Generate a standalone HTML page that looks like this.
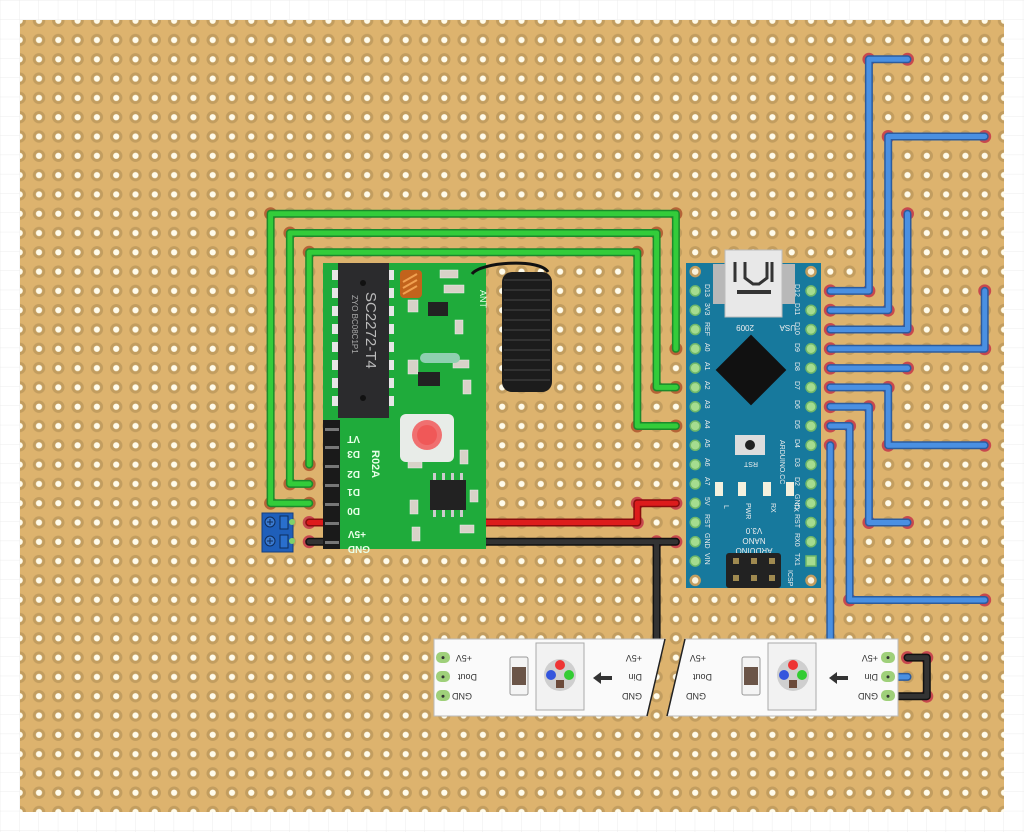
<!DOCTYPE html>
<html><head><meta charset="utf-8"><style>
html,body{margin:0;padding:0;background:#fff;}
svg{display:block;}
text{font-family:"Liberation Sans",sans-serif;}
</style></head><body>
<svg width="1024" height="832" viewBox="0 0 1024 832" xmlns="http://www.w3.org/2000/svg">
<defs>
<pattern id="bg" width="19.3" height="19.3" patternUnits="userSpaceOnUse" x="0.4" y="0.7">
<path d="M19.3 0V19.3H0" fill="none" stroke="#ececec" stroke-width="1"/>
</pattern>
<pattern id="holes" width="19.3" height="19.3" patternUnits="userSpaceOnUse" x="29.35" y="30.35">
<circle cx="9.65" cy="9.65" r="6.2" fill="#c29d5f"/>
<circle cx="9.65" cy="9.65" r="3.1" fill="#fffbea"/>
</pattern>
</defs>
<rect width="1024" height="832" fill="url(#bg)"/>
<rect x="20" y="20" width="984" height="792" fill="#ddb36e"/>
<rect x="20" y="20" width="984" height="792" fill="url(#holes)"/>

<!-- endpoint halos -->
<g fill="#c8344a" opacity="0.8">
<circle cx="907.5" cy="59.3" r="6.5"/><circle cx="868.9" cy="59.3" r="6.5"/><circle cx="868.9" cy="290.9" r="6.5"/><circle cx="830.3" cy="290.9" r="6.5"/>
<circle cx="984.7" cy="136.5" r="6.5"/><circle cx="888.2" cy="136.5" r="6.5"/><circle cx="888.2" cy="310.2" r="6.5"/><circle cx="830.3" cy="310.2" r="6.5"/>
<circle cx="907.5" cy="213.7" r="6.5"/><circle cx="907.5" cy="329.5" r="6.5"/><circle cx="830.3" cy="329.5" r="6.5"/>
<circle cx="984.7" cy="290.9" r="6.5"/><circle cx="984.7" cy="348.8" r="6.5"/><circle cx="830.3" cy="348.8" r="6.5"/>
<circle cx="907.5" cy="368.1" r="6.5"/><circle cx="830.3" cy="368.1" r="6.5"/>
<circle cx="830.3" cy="387.4" r="6.5"/><circle cx="888.2" cy="387.4" r="6.5"/><circle cx="888.2" cy="445.3" r="6.5"/><circle cx="984.7" cy="445.3" r="6.5"/>
<circle cx="830.3" cy="406.7" r="6.5"/><circle cx="868.9" cy="406.7" r="6.5"/><circle cx="868.9" cy="522.5" r="6.5"/><circle cx="907.5" cy="522.5" r="6.5"/>
<circle cx="830.3" cy="426" r="6.5"/><circle cx="849.6" cy="426" r="6.5"/><circle cx="849.6" cy="600" r="6.5"/><circle cx="984.7" cy="600" r="6.5"/>
<circle cx="830.3" cy="445.3" r="6.5"/>
<circle cx="309.2" cy="522.5" r="6.5"/><circle cx="637.3" cy="522.5" r="6.5"/><circle cx="637.3" cy="503.2" r="6.5"/><circle cx="675.9" cy="503.2" r="6.5"/>
<circle cx="309.2" cy="541.8" r="6.5"/><circle cx="675.9" cy="541.8" r="6.5"/><circle cx="656.6" cy="541.8" r="6.5"/>
<circle cx="907.5" cy="657.6" r="6.5"/><circle cx="926.8" cy="657.6" r="6.5"/><circle cx="926.8" cy="696.2" r="6.5"/>
</g>
<g fill="#b0502a" opacity="0.75">
<circle cx="309.2" cy="503.2" r="6.5"/><circle cx="270.6" cy="503.2" r="6.5"/><circle cx="270.6" cy="213.7" r="6.5"/><circle cx="675.9" cy="213.7" r="6.5"/><circle cx="675.9" cy="348.8" r="6.5"/>
<circle cx="309.2" cy="483.9" r="6.5"/><circle cx="289.9" cy="483.9" r="6.5"/><circle cx="289.9" cy="233" r="6.5"/><circle cx="656.6" cy="233" r="6.5"/><circle cx="656.6" cy="387.4" r="6.5"/><circle cx="675.9" cy="387.4" r="6.5"/>
<circle cx="309.2" cy="464.6" r="6.5"/><circle cx="309.2" cy="252.3" r="6.5"/><circle cx="637.3" cy="252.3" r="6.5"/><circle cx="637.3" cy="426" r="6.5"/><circle cx="675.9" cy="426" r="6.5"/>
</g>

<!-- Blue wires -->
<g fill="none" stroke-linecap="round" stroke-linejoin="round">
<g stroke="#2c5c9e" stroke-width="8">
<path d="M907.5 59.3H868.9V290.9H830.3"/>
<path d="M984.7 136.5H888.2V310.2H830.3"/>
<path d="M907.5 213.7V329.5H830.3"/>
<path d="M984.7 290.9V348.8H830.3"/>
<path d="M907.5 368.1H830.3"/>
<path d="M830.3 387.4H888.2V445.3H984.7"/>
<path d="M830.3 406.7H868.9V522.5H907.5"/>
<path d="M830.3 426H849.6V600H984.7"/>
<path d="M830.3 445.3V640"/>
<path d="M888 676.9H907.5"/>
</g>
<g stroke="#4a90e2" stroke-width="5">
<path d="M907.5 59.3H868.9V290.9H830.3"/>
<path d="M984.7 136.5H888.2V310.2H830.3"/>
<path d="M907.5 213.7V329.5H830.3"/>
<path d="M984.7 290.9V348.8H830.3"/>
<path d="M907.5 368.1H830.3"/>
<path d="M830.3 387.4H888.2V445.3H984.7"/>
<path d="M830.3 406.7H868.9V522.5H907.5"/>
<path d="M830.3 426H849.6V600H984.7"/>
<path d="M830.3 445.3V640"/>
<path d="M888 676.9H907.5"/>
</g>
</g>

<!-- Green wires -->
<g fill="none" stroke-linecap="round" stroke-linejoin="round">
<g stroke="#1b8a2b" stroke-width="8">
<path d="M309.2 503.2H270.6V213.7H675.9V348.8"/>
<path d="M309.2 483.9H289.9V233H656.6V387.4H675.9"/>
<path d="M309.2 464.6V252.3H637.3V426H675.9"/>
</g>
<g stroke="#33cc3a" stroke-width="5">
<path d="M309.2 503.2H270.6V213.7H675.9V348.8"/>
<path d="M309.2 483.9H289.9V233H656.6V387.4H675.9"/>
<path d="M309.2 464.6V252.3H637.3V426H675.9"/>
</g>
</g>

<!-- Red / black wires -->
<g fill="none" stroke-linecap="round" stroke-linejoin="round">
<path d="M309.2 522.5H637.3V503.2H675.9" stroke="#8a0d0d" stroke-width="8"/>
<path d="M309.2 522.5H637.3V503.2H675.9" stroke="#dd1c1c" stroke-width="5"/>
<path d="M309.2 541.8H675.9M656.6 541.8V650" stroke="#111" stroke-width="8"/>
<path d="M309.2 541.8H675.9M656.6 541.8V650" stroke="#333" stroke-width="5"/>
<path d="M907.5 657.6H926.8V696.2H898" stroke="#111" stroke-width="8"/>
<path d="M907.5 657.6H926.8V696.2H898" stroke="#333" stroke-width="5"/>
</g>

<!-- Terminal block -->
<rect x="262" y="513" width="31" height="39" fill="#1f5fba" stroke="#143f80"/>
<circle cx="270" cy="522" r="5" fill="#3a7ad0" stroke="#0e2c5a"/><path d="M267 522h6M270 519v6" stroke="#0e2c5a"/>
<circle cx="270" cy="541" r="5" fill="#3a7ad0" stroke="#0e2c5a"/><path d="M267 541h6M270 538v6" stroke="#0e2c5a"/>
<rect x="280" y="516" width="8" height="13" fill="#2a6fcc" stroke="#0e2c5a"/>
<rect x="280" y="535" width="8" height="13" fill="#2a6fcc" stroke="#0e2c5a"/>
<circle cx="292" cy="522" r="3" fill="#7fd06a"/><circle cx="292" cy="541" r="3" fill="#7fd06a"/>

<!-- RF module -->
<rect x="323" y="263" width="163" height="286" fill="#1fab3b"/>
<rect x="323" y="420" width="17" height="129" fill="#1a1a1a"/>
<g fill="#777">
<rect x="325" y="428" width="14" height="3"/><rect x="325" y="446" width="14" height="3"/><rect x="325" y="465" width="14" height="3"/><rect x="325" y="484" width="14" height="3"/><rect x="325" y="503" width="14" height="3"/><rect x="325" y="522" width="14" height="3"/><rect x="325" y="541" width="14" height="3"/>
</g>
<g fill="#e6e6e6">
<rect x="332" y="270" width="6" height="10"/><rect x="332" y="288" width="6" height="10"/><rect x="332" y="306" width="6" height="10"/><rect x="332" y="324" width="6" height="10"/><rect x="332" y="342" width="6" height="10"/><rect x="332" y="360" width="6" height="10"/><rect x="332" y="378" width="6" height="10"/><rect x="332" y="396" width="6" height="10"/>
<rect x="388" y="270" width="6" height="10"/><rect x="388" y="288" width="6" height="10"/><rect x="388" y="306" width="6" height="10"/><rect x="388" y="324" width="6" height="10"/><rect x="388" y="342" width="6" height="10"/><rect x="388" y="360" width="6" height="10"/><rect x="388" y="378" width="6" height="10"/><rect x="388" y="396" width="6" height="10"/>
</g>
<rect x="338" y="263" width="51" height="155" fill="#2b2b2d"/>
<circle cx="363" cy="283" r="3" fill="#111"/><circle cx="363" cy="398" r="3" fill="#111"/>
<text transform="translate(366,292) rotate(90)" font-size="15" fill="#bbb">SC2272-T4</text>
<text transform="translate(352,295) rotate(90)" font-size="8" fill="#aaa">ZYO  BC08C1P1</text>
<g font-size="10" fill="#e8ffe8" font-weight="bold">
<text transform="translate(360,436) rotate(180)">VT</text>
<text transform="translate(360,451) rotate(180)">D3</text>
<text transform="translate(360,471) rotate(180)">D2</text>
<text transform="translate(360,489) rotate(180)">D1</text>
<text transform="translate(360,508) rotate(180)">D0</text>
<text transform="translate(366,531) rotate(180)">+5V</text>
<text transform="translate(370,546) rotate(180)">GND</text>
</g>
<text transform="translate(372,450) rotate(90)" font-size="11" fill="#e8ffe8" font-weight="bold">R02A</text>
<text transform="translate(480,290) rotate(90)" font-size="9" fill="#e8ffe8">ANT</text>
<g fill="#d8d2c8" stroke="#eee" stroke-width="0.5">
<rect x="440" y="270" width="18" height="8"/><rect x="444" y="285" width="20" height="8"/><rect x="455" y="320" width="8" height="14"/><rect x="408" y="300" width="10" height="12"/><rect x="408" y="360" width="10" height="14"/><rect x="453" y="360" width="16" height="8"/><rect x="463" y="380" width="8" height="14"/><rect x="408" y="460" width="14" height="8"/><rect x="460" y="450" width="8" height="14"/><rect x="470" y="490" width="8" height="12"/><rect x="410" y="500" width="8" height="14"/><rect x="460" y="525" width="14" height="8"/><rect x="412" y="527" width="8" height="14"/>
</g>
<rect x="400" y="270" width="22" height="28" fill="#c2631c" rx="4"/>
<path d="M403 282l14-8M403 288l14-8M403 294l14-8" stroke="#f0a050" stroke-width="2"/>
<rect x="428" y="302" width="20" height="14" fill="#222"/>
<rect x="420" y="353" width="40" height="10" rx="5" fill="#8fd0b0"/>
<rect x="418" y="372" width="22" height="14" fill="#222"/>
<rect x="400" y="414" width="54" height="48" rx="6" fill="#e8ece8"/>
<circle cx="427" cy="435" r="15" fill="#f07070"/><circle cx="427" cy="435" r="10" fill="#f05858"/>
<rect x="430" y="480" width="36" height="30" fill="#222"/>
<g fill="#ccc"><rect x="433" y="473" width="3" height="7"/><rect x="442" y="473" width="3" height="7"/><rect x="451" y="473" width="3" height="7"/><rect x="460" y="473" width="3" height="7"/><rect x="433" y="510" width="3" height="7"/><rect x="442" y="510" width="3" height="7"/><rect x="451" y="510" width="3" height="7"/><rect x="460" y="510" width="3" height="7"/></g>
<!-- antenna -->
<path d="M472 274C480 262 540 258 548 272" stroke="#111" stroke-width="3" fill="none"/>
<rect x="502" y="272" width="50" height="120" rx="10" fill="#1c1c1c"/>
<g stroke="#3a3a3a" stroke-width="1.5" fill="none">
<path d="M504 280H550M504 290H550M504 300H550M504 310H550M504 320H550M504 330H550M504 340H550M504 350H550M504 360H550M504 370H550M504 380H550"/>
</g>

<!-- Arduino -->
<rect x="686" y="263" width="135" height="325" fill="#17799d"/>
<rect x="713" y="264" width="82" height="40" fill="#b8b8b8"/>
<rect x="725" y="250" width="57" height="67" fill="#e8e8e8" stroke="#bbb"/>
<path d="M735 262v20M772 262v20M745 262v16l8 6h6l8-6v-16" stroke="#333" stroke-width="3" fill="none"/>
<rect x="737" y="290" width="34" height="4" fill="#333"/>
<text transform="translate(754,325) rotate(180)" font-size="8" fill="#eee">2009</text>
<text transform="translate(796,325) rotate(180)" font-size="8" fill="#eee">USA</text>
<rect x="726" y="345" width="50" height="50" fill="#111" transform="rotate(45 751 370)"/>
<rect x="735" y="435" width="30" height="20" fill="#ddd"/>
<circle cx="750" cy="445" r="5" fill="#222"/>
<text transform="translate(758,462) rotate(180)" font-size="7" fill="#eee">RST</text>
<text transform="translate(780,440) rotate(90)" font-size="7" fill="#eee">ARDUINO.CC</text>
<g fill="#f4f1de"><rect x="715" y="482" width="8" height="14"/><rect x="738" y="482" width="8" height="14"/><rect x="763" y="482" width="8" height="14"/><rect x="786" y="482" width="8" height="14"/></g>
<g font-size="7" fill="#eee">
<text transform="translate(724,505) rotate(90)">L</text>
<text transform="translate(746,503) rotate(90)">PWR</text>
<text transform="translate(771,503) rotate(90)">RX</text>
<text transform="translate(794,503) rotate(90)">TX</text>
</g>
<g font-size="8" fill="#eee" text-anchor="middle">
<text transform="translate(754,528) rotate(180)">V3.0</text>
<text transform="translate(754,538) rotate(180)">NANO</text>
<text transform="translate(754,548) rotate(180)">ARDUINO</text>
</g>
<rect x="726" y="553" width="55" height="35" fill="#222" rx="3"/>
<g fill="#a08a50"><rect x="733" y="558" width="6" height="6"/><rect x="751" y="558" width="6" height="6"/><rect x="769" y="558" width="6" height="6"/><rect x="733" y="575" width="6" height="6"/><rect x="751" y="575" width="6" height="6"/><rect x="769" y="575" width="6" height="6"/></g>
<text transform="translate(788,570) rotate(90)" font-size="7" fill="#eee">ICSP</text>
<g fill="#f7f1dc" stroke="#c29d5f" stroke-width="2.5">
<circle cx="695.2" cy="271.6" r="4.5"/><circle cx="811" cy="271.6" r="4.5"/><circle cx="695.2" cy="580.4" r="4.5"/><circle cx="811" cy="580.4" r="4.5"/>
</g>
<g fill="#a5dc8f" stroke="#6fb86a" stroke-width="1.5">
<circle cx="695.2" cy="290.9" r="5"/><circle cx="695.2" cy="310.2" r="5"/><circle cx="695.2" cy="329.5" r="5"/><circle cx="695.2" cy="348.8" r="5"/><circle cx="695.2" cy="368.1" r="5"/><circle cx="695.2" cy="387.4" r="5"/><circle cx="695.2" cy="406.7" r="5"/><circle cx="695.2" cy="426" r="5"/><circle cx="695.2" cy="445.3" r="5"/><circle cx="695.2" cy="464.6" r="5"/><circle cx="695.2" cy="483.9" r="5"/><circle cx="695.2" cy="503.2" r="5"/><circle cx="695.2" cy="522.5" r="5"/><circle cx="695.2" cy="541.8" r="5"/><circle cx="695.2" cy="561.1" r="5"/>
<circle cx="811" cy="290.9" r="5"/><circle cx="811" cy="310.2" r="5"/><circle cx="811" cy="329.5" r="5"/><circle cx="811" cy="348.8" r="5"/><circle cx="811" cy="368.1" r="5"/><circle cx="811" cy="387.4" r="5"/><circle cx="811" cy="406.7" r="5"/><circle cx="811" cy="426" r="5"/><circle cx="811" cy="445.3" r="5"/><circle cx="811" cy="464.6" r="5"/><circle cx="811" cy="483.9" r="5"/><circle cx="811" cy="503.2" r="5"/><circle cx="811" cy="522.5" r="5"/><circle cx="811" cy="541.8" r="5"/><rect x="806" y="556" width="10" height="10"/>
</g>
<g font-size="7" fill="#eee">
<text transform="translate(705,284) rotate(90)">D13</text><text transform="translate(705,303) rotate(90)">3V3</text><text transform="translate(705,322) rotate(90)">REF</text><text transform="translate(705,343) rotate(90)">A0</text><text transform="translate(705,362) rotate(90)">A1</text><text transform="translate(705,381) rotate(90)">A2</text><text transform="translate(705,400) rotate(90)">A3</text><text transform="translate(705,420) rotate(90)">A4</text><text transform="translate(705,439) rotate(90)">A5</text><text transform="translate(705,458) rotate(90)">A6</text><text transform="translate(705,477) rotate(90)">A7</text><text transform="translate(705,497) rotate(90)">5V</text><text transform="translate(705,514) rotate(90)">RST</text><text transform="translate(705,533) rotate(90)">GND</text><text transform="translate(705,553) rotate(90)">VIN</text>
<text transform="translate(795,284) rotate(90)">D12</text><text transform="translate(795,303) rotate(90)">D11</text><text transform="translate(795,322) rotate(90)">D10</text><text transform="translate(795,343) rotate(90)">D9</text><text transform="translate(795,362) rotate(90)">D8</text><text transform="translate(795,381) rotate(90)">D7</text><text transform="translate(795,400) rotate(90)">D6</text><text transform="translate(795,420) rotate(90)">D5</text><text transform="translate(795,439) rotate(90)">D4</text><text transform="translate(795,458) rotate(90)">D3</text><text transform="translate(795,477) rotate(90)">D2</text><text transform="translate(795,494) rotate(90)">GND</text><text transform="translate(795,514) rotate(90)">RST</text><text transform="translate(795,533) rotate(90)">RX0</text><text transform="translate(795,553) rotate(90)">TX1</text>
</g>

<!-- LED strips -->
<path d="M434 639H665L647 716H434Z" fill="#fafafa" stroke="#bbb"/>
<path d="M685 639H898V716H667Z" fill="#fafafa" stroke="#bbb"/>
<path d="M665 639L647 716M685 639L667 716" stroke="#222" stroke-width="1.5"/>
<g>
<rect x="536" y="643" width="48" height="67" fill="#f2f2f2" stroke="#aaa"/>
<circle cx="560" cy="675" r="16" fill="#cfcfcf"/>
<circle cx="560" cy="665" r="5" fill="#e33"/><circle cx="551" cy="675" r="5" fill="#35d"/><circle cx="569" cy="675" r="5" fill="#3c3"/><rect x="556" y="680" width="8" height="8" fill="#6b4a3a"/>
<rect x="510" y="657" width="18" height="38" rx="2" fill="#f4f4f4" stroke="#999"/><rect x="512" y="667" width="14" height="18" fill="#6b5548"/>
<path d="M612 678H600" stroke="#333" stroke-width="4"/><path d="M601 672L593 678L601 684Z" fill="#333"/>
</g>
<g>
<rect x="768" y="643" width="48" height="67" fill="#f2f2f2" stroke="#aaa"/>
<circle cx="793" cy="675" r="16" fill="#cfcfcf"/>
<circle cx="793" cy="665" r="5" fill="#e33"/><circle cx="784" cy="675" r="5" fill="#35d"/><circle cx="802" cy="675" r="5" fill="#3c3"/><rect x="789" y="680" width="8" height="8" fill="#6b4a3a"/>
<rect x="742" y="657" width="18" height="38" rx="2" fill="#f4f4f4" stroke="#999"/><rect x="744" y="667" width="14" height="18" fill="#6b5548"/>
<path d="M848 678H836" stroke="#333" stroke-width="4"/><path d="M837 672L829 678L837 684Z" fill="#333"/>
</g>
<g fill="#9fd07a"><rect x="436" y="652" width="14" height="11" rx="5"/><rect x="436" y="671" width="14" height="11" rx="5"/><rect x="436" y="690" width="14" height="11" rx="5"/>
<rect x="881" y="652" width="14" height="11" rx="5"/><rect x="881" y="671" width="14" height="11" rx="5"/><rect x="881" y="690" width="14" height="11" rx="5"/></g>
<g fill="#333"><circle cx="443" cy="657.6" r="1.5"/><circle cx="443" cy="676.9" r="1.5"/><circle cx="443" cy="696.2" r="1.5"/><circle cx="888" cy="657.6" r="1.5"/><circle cx="888" cy="676.9" r="1.5"/><circle cx="888" cy="696.2" r="1.5"/></g>
<g font-size="9" fill="#333" font-family="Liberation Mono, monospace">
<text transform="translate(472,655) rotate(180)">+5V</text><text transform="translate(477,674) rotate(180)">Dout</text><text transform="translate(472,693) rotate(180)">GND</text>
<text transform="translate(642,655) rotate(180)">+5V</text><text transform="translate(642,674) rotate(180)">Din</text><text transform="translate(642,693) rotate(180)">GND</text>
<text transform="translate(706,655) rotate(180)">+5V</text><text transform="translate(712,674) rotate(180)">Dout</text><text transform="translate(706,693) rotate(180)">GND</text>
<text transform="translate(878,655) rotate(180)">+5V</text><text transform="translate(878,674) rotate(180)">Din</text><text transform="translate(878,693) rotate(180)">GND</text>
</g>
</svg>
</body></html>
